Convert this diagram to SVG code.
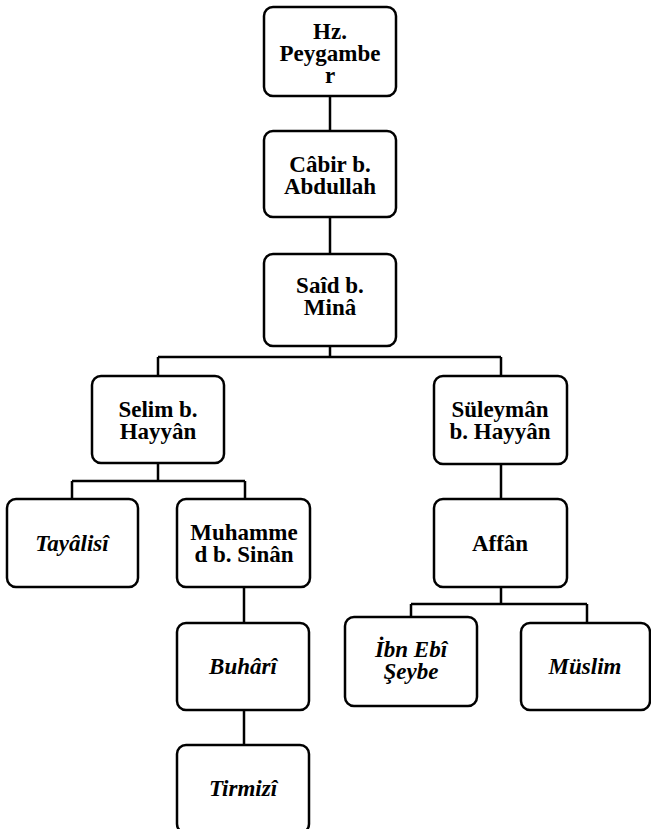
<svg xmlns="http://www.w3.org/2000/svg" width="651" height="829" viewBox="0 0 651 829">
<style>
.box{fill:#fff;stroke:#000;stroke-width:2.5}
.t{font-family:"Liberation Serif","Times New Roman",serif;font-weight:bold;font-size:23px;text-anchor:middle;fill:#000}
.i{font-style:italic}
.c{fill:none;stroke:#000;stroke-width:2.5}
</style>
<rect width="651" height="829" fill="#fff"/>
<g id="connectors">
<path class="c" d="M330 96V131"/>
<path class="c" d="M330 217V254"/>
<path class="c" d="M330 346V357M158 357H501M158 357V376M501 357V376"/>
<path class="c" d="M158 463V481M72 481H245M72 481V499M245 481V499"/>
<path class="c" d="M244 587V623"/>
<path class="c" d="M244 710V745"/>
<path class="c" d="M501 464V499"/>
<path class="c" d="M501 587V604M411 604H587M411 604V617M587 604V623"/>
</g>
<g id="n-peygamber">
<rect class="box" x="264" y="7" width="132" height="89" rx="9"/>
<text class="t" x="330" y="39">Hz.</text>
<text class="t" x="330" y="61">Peygambe</text>
<text class="t" x="330" y="83">r</text>
</g>
<g id="n-cabir">
<rect class="box" x="264" y="131" width="132" height="86" rx="9"/>
<text class="t" x="330" y="172">Câbir b.</text>
<text class="t" x="330" y="194">Abdullah</text>
</g>
<g id="n-said">
<rect class="box" x="264" y="254" width="132" height="92" rx="9"/>
<text class="t" x="330" y="293">Saîd b.</text>
<text class="t" x="330" y="315">Minâ</text>
</g>
<g id="n-selim">
<rect class="box" x="92" y="376" width="132" height="87" rx="9"/>
<text class="t" x="158" y="417">Selim b.</text>
<text class="t" x="158" y="439">Hayyân</text>
</g>
<g id="n-suleyman">
<rect class="box" x="434" y="376" width="133" height="88" rx="9"/>
<text class="t" x="500" y="417">Süleymân</text>
<text class="t" x="500" y="439">b. Hayyân</text>
</g>
<g id="n-tayalisi">
<rect class="box" x="7" y="499" width="131" height="88" rx="9"/>
<text class="t i" x="72" y="551">Tayâlisî</text>
</g>
<g id="n-muhammed">
<rect class="box" x="177" y="499" width="133" height="88" rx="9"/>
<text class="t" x="244" y="540">Muhamme</text>
<text class="t" x="244" y="562">d b. Sinân</text>
</g>
<g id="n-affan">
<rect class="box" x="434" y="499" width="133" height="88" rx="9"/>
<text class="t" x="500" y="551">Affân</text>
</g>
<g id="n-buhari">
<rect class="box" x="177" y="623" width="132" height="87" rx="9"/>
<text class="t i" x="243" y="674">Buhârî</text>
</g>
<g id="n-ibn-ebi-seybe">
<rect class="box" x="345" y="617" width="132" height="89" rx="9"/>
<text class="t i" x="411" y="657">İbn Ebî</text>
<text class="t i" x="411" y="679">Şeybe</text>
</g>
<g id="n-muslim">
<rect class="box" x="521" y="623" width="129" height="87" rx="9"/>
<text class="t i" x="585" y="674">Müslim</text>
</g>
<g id="n-tirmizi">
<rect class="box" x="177" y="745" width="132" height="88" rx="9"/>
<text class="t i" x="243" y="796">Tirmizî</text>
</g>
</svg>
